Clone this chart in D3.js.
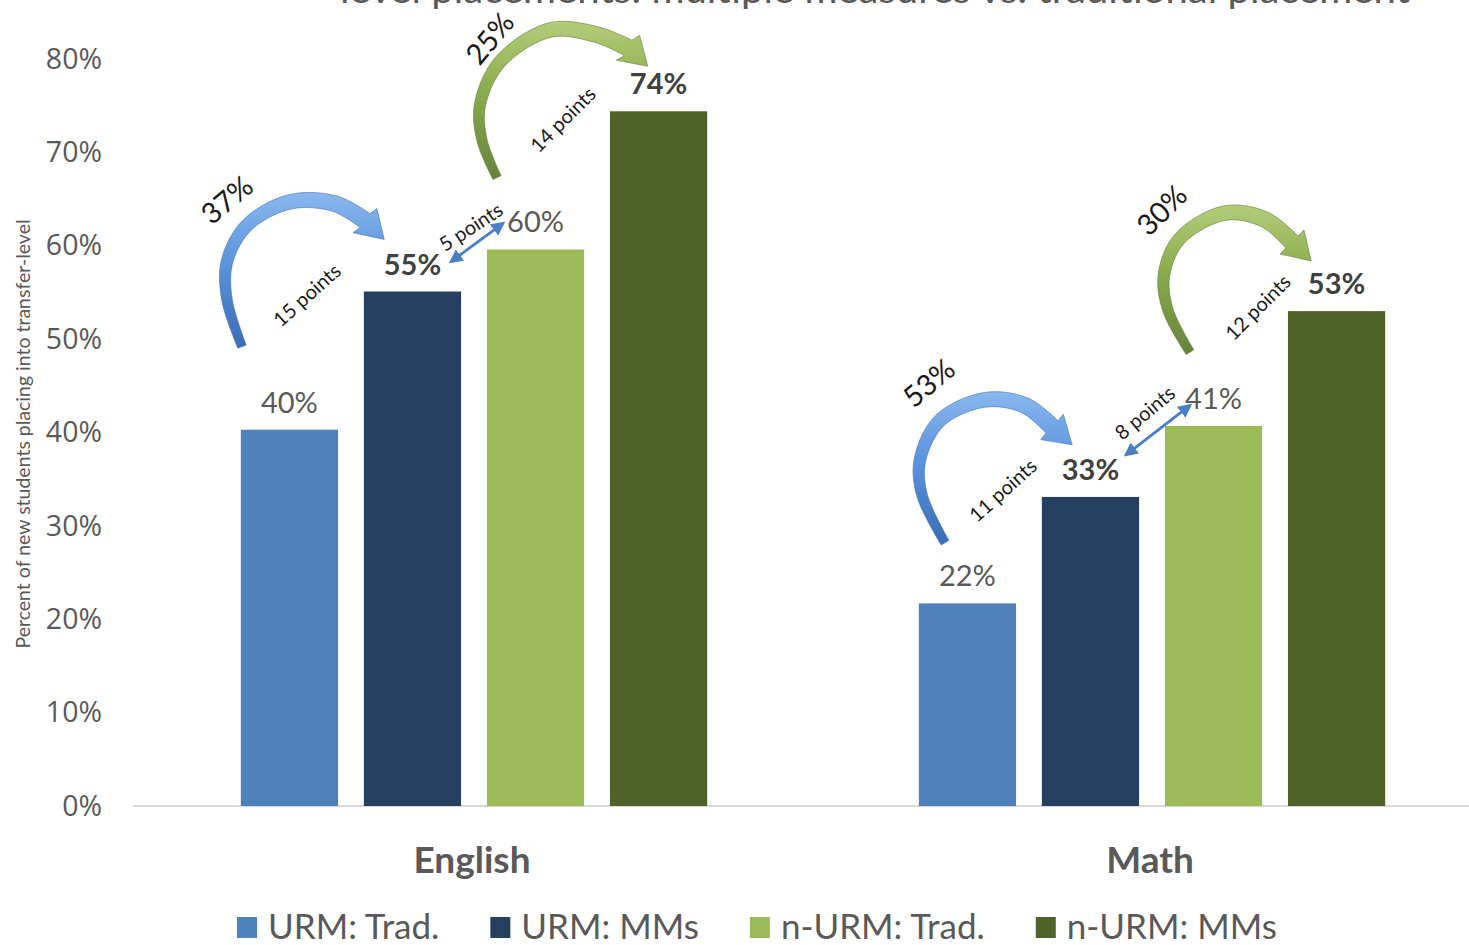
<!DOCTYPE html>
<html>
<head>
<meta charset="utf-8">
<script src="https://cdn.jsdelivr.net/npm/d3@7"></script>
<style>
  body { margin: 0; background: #fff; }
  svg { display: block; font-family: Lato, "Open Sans", sans-serif; }
</style>
</head>
<body>
<div id="chart"></div>
<script>

var categories = ["English", "Math"];
var seriesNames = ["URM: Trad.", "URM: MMs", "n-URM: Trad.", "n-URM: MMs"];
var englishValues = [0.403, 0.551, 0.596, 0.744];
var mathValues = [0.217, 0.331, 0.407, 0.530];
var yTicks = [0, 0.1, 0.2, 0.3, 0.4, 0.5, 0.6, 0.7, 0.8];

// change annotations: points are [offset from category start, value]
var curvedArrows = [
    {cat: "English", color: "blue",
     pts: [[107, .492], [92, .542], [92, .583], [112, .622], [155, .647], [200, .645], [230, .627]],
     tip: [248, .608]},
    {cat: "English", color: "green",
     pts: [[362, .673], [347, .713], [345, .751], [365, .797], [415, .831], [462, .826], [493, .812]],
     tip: [510, .795]},
    {cat: "Math", color: "blue",
     pts: [[132, .282], [109, .333], [107, .371], [127, .413], [172, .435], [212, .429], [239, .406]],
     tip: [259, .387]},
    {cat: "Math", color: "green",
     pts: [[377, .486], [355, .531], [351, .569], [367, .608], [412, .635], [452, .628], [479, .604]],
     tip: [497, .585]}
];
var gapArrows = [
    {cat: "English", from: [316, .583], to: [368, .624]},
    {cat: "Math", from: [313, .376], to: [377, .429]}
];
var notes = [
    {cat: "English", text: "37%", at: [92, .649], rot: -40, big: true},
    {cat: "English", text: "15 points", at: [172, .547], rot: -42, big: false},
    {cat: "English", text: "5 points", at: [336, .620], rot: -33, big: false},
    {cat: "English", text: "25%", at: [355, .822], rot: -50, big: true},
    {cat: "English", text: "14 points", at: [428, .735], rot: -45, big: false},
    {cat: "Math", text: "53%", at: [116, .453], rot: -40, big: true},
    {cat: "Math", text: "11 points", at: [190, .338], rot: -42, big: false},
    {cat: "Math", text: "8 points", at: [332, .421], rot: -40, big: false},
    {cat: "Math", text: "30%", at: [349, .638], rot: -45, big: true},
    {cat: "Math", text: "12 points", at: [445, .534], rot: -45, big: false}
];

var colors = ["#4F81BD", "#243F60", "#9BBB59", "#4F6228"];
var W = 1469, H = 945;

var svg = d3.select("#chart").append("svg")
    .attr("width", W)
    .attr("height", H);

var defs = svg.append("defs");
var gBlue = defs.append("linearGradient").attr("id", "gradBlue")
    .attr("x1", 0).attr("y1", 0).attr("x2", 0).attr("y2", 1);
gBlue.append("stop").attr("offset", "0%").attr("stop-color", "#8ab8ee");
gBlue.append("stop").attr("offset", "45%").attr("stop-color", "#5b93dc");
gBlue.append("stop").attr("offset", "100%").attr("stop-color", "#3a6db5");
var gGreen = defs.append("linearGradient").attr("id", "gradGreen")
    .attr("x1", 0).attr("y1", 0).attr("x2", 0).attr("y2", 1);
gGreen.append("stop").attr("offset", "0%").attr("stop-color", "#b4cd7a");
gGreen.append("stop").attr("offset", "45%").attr("stop-color", "#8aab4c");
gGreen.append("stop").attr("offset", "100%").attr("stop-color", "#66843a");

defs.append("marker").attr("id", "head")
    .attr("viewBox", "0 0 10 10").attr("refX", 8).attr("refY", 5)
    .attr("markerWidth", 5).attr("markerHeight", 5)
    .attr("orient", "auto-start-reverse")
    .append("path").attr("d", "M0,0L10,5L0,10z").attr("fill", "#4a7fc6");

// title is cut off at the top of the picture
svg.append("text")
    .attr("x", 875)
    .attr("y", 3)
    .attr("text-anchor", "middle")
    .attr("font-size", 36)
    .attr("textLength", 1070)
    .attr("lengthAdjust", "spacingAndGlyphs")
    .attr("fill", "#595959")
    .text("level placements: multiple measures vs. traditional placement");

var x0 = d3.scaleBand()
    .domain(categories)
    .range([135, 1491])
    .paddingInner(0);

var x1 = d3.scaleBand()
    .domain(seriesNames)
    .range([0, x0.bandwidth()])
    .paddingInner(0.21)
    .paddingOuter(0.86);

var y = d3.scaleLinear()
    .domain([0, 0.8])
    .range([806, 59]);

// y axis
var yAxis = svg.append("g")
    .attr("transform", "translate(102,0)")
    .call(d3.axisLeft(y).tickValues(yTicks).tickFormat(d3.format(".0%")).tickSize(0).tickPadding(0));
yAxis.select(".domain").remove();
yAxis.selectAll("text")
    .attr("font-family", "'Open Sans', sans-serif")
    .attr("font-size", 28.5)
    .attr("fill", "#595959");

svg.append("text")
    .attr("transform", "translate(30,434) rotate(-90)")
    .attr("text-anchor", "middle")
    .attr("font-size", 19.5)
    .attr("fill", "#595959")
    .text("Percent of new students placing into transfer-level");

// baseline
svg.append("line")
    .attr("x1", 133).attr("x2", W)
    .attr("y1", y(0)).attr("y2", y(0))
    .attr("stroke", "#d9d9d9")
    .attr("stroke-width", 2);

var rows = categories.map(function(c, i) {
    var vals = i === 0 ? englishValues : mathValues;
    return {cat: c, vals: seriesNames.map(function(s, j) { return {s: s, j: j, v: vals[j]}; })};
});

var groups = svg.selectAll("g.cat")
    .data(rows)
    .enter().append("g")
    .attr("class", "cat")
    .attr("transform", function(d) { return "translate(" + x0(d.cat) + ",0)"; });

groups.selectAll("rect")
    .data(function(d) { return d.vals; })
    .enter().append("rect")
    .attr("x", function(d) { return x1(d.s); })
    .attr("y", function(d) { return y(d.v); })
    .attr("width", x1.bandwidth())
    .attr("height", function(d) { return y(0) - y(d.v); })
    .attr("fill", function(d) { return colors[d.j]; });

groups.selectAll("text.val")
    .data(function(d) { return d.vals; })
    .enter().append("text")
    .attr("class", "val")
    .attr("x", function(d) { return x1(d.s) + x1.bandwidth() / 2; })
    .attr("y", function(d) { return y(d.v) - 17; })
    .attr("text-anchor", "middle")
    .attr("font-size", 29)
    .attr("font-weight", function(d) { return d.j % 2 ? "bold" : "normal"; })
    .attr("fill", function(d) { return d.j % 2 ? "#404040" : "#595959"; })
    .text(function(d) { return Math.round(d.v * 100) + "%"; });

// category labels
svg.selectAll("text.catlabel")
    .data(categories)
    .enter().append("text")
    .attr("class", "catlabel")
    .attr("x", function(d) { return x0(d) + x0.bandwidth() / 2 - 2; })
    .attr("y", 873)
    .attr("text-anchor", "middle")
    .attr("font-size", 37)
    .attr("font-weight", "bold")
    .attr("fill", "#595959")
    .text(function(d) { return d; });

// curved arrows
function px(cat, p) { return [x0(cat) + p[0], y(p[1])]; }

var tmp = svg.append("path").attr("fill", "none");
var line = d3.line().curve(d3.curveCatmullRom.alpha(0.5));

curvedArrows.forEach(function(a) {
    var pts = a.pts.map(function(p) { return px(a.cat, p); });
    var tip = px(a.cat, a.tip);
    tmp.attr("d", line(pts));
    var node = tmp.node(), L = node.getTotalLength(), n = 60;
    var samples = d3.range(n + 1).map(function(i) { return node.getPointAtLength(L * i / n); });
    var left = [], right = [];
    samples.forEach(function(p, i) {
        var a0 = samples[Math.max(0, i - 1)], a1 = samples[Math.min(n, i + 1)];
        var tx = a1.x - a0.x, ty = a1.y - a0.y, len = Math.sqrt(tx * tx + ty * ty);
        var nx = -ty / len, ny = tx / len;
        var w = 4.5 + 4 * (i / n);
        left.push([p.x + nx * w, p.y + ny * w]);
        right.push([p.x - nx * w, p.y - ny * w]);
    });
    var B = samples[n];
    var dx = tip[0] - B.x, dy = tip[1] - B.y, dl = Math.sqrt(dx * dx + dy * dy);
    var hx = -dy / dl * 17, hy = dx / dl * 17;
    var tipX = B.x + dx / dl * 27, tipY = B.y + dy / dl * 27;
    var poly = left.concat([[B.x + hx, B.y + hy], [tipX, tipY], [B.x - hx, B.y - hy]], right.reverse());
    svg.append("path")
        .attr("d", "M" + poly.join("L") + "Z")
        .attr("fill", a.color === "blue" ? "url(#gradBlue)" : "url(#gradGreen)")
        .attr("stroke", a.color === "blue" ? "#3f74bd" : "#62803a")
        .attr("stroke-width", 0.6);
});
tmp.remove();

gapArrows.forEach(function(a) {
    var p0 = px(a.cat, a.from), p1 = px(a.cat, a.to);
    svg.append("line")
        .attr("x1", p0[0]).attr("y1", p0[1])
        .attr("x2", p1[0]).attr("y2", p1[1])
        .attr("stroke", "#4a7fc6")
        .attr("stroke-width", 2.8)
        .attr("marker-start", "url(#head)")
        .attr("marker-end", "url(#head)");
});

notes.forEach(function(d) {
    var p = px(d.cat, d.at);
    svg.append("text")
        .attr("transform", "translate(" + p[0] + "," + p[1] + ") rotate(" + d.rot + ")")
        .attr("text-anchor", "middle")
        .attr("dy", "0.35em")
        .attr("font-size", d.big ? 29 : 20)
        .attr("fill", "#1a1a1a")
        .text(d.text);
});

// legend
var legend = svg.append("g").attr("transform", "translate(237,0)");
var lx = 0;
seriesNames.forEach(function(s, i) {
    legend.append("rect")
        .attr("x", lx).attr("y", 917)
        .attr("width", 20).attr("height", 21)
        .attr("fill", colors[i]);
    var t = legend.append("text")
        .attr("x", lx + 31).attr("y", 939)
        .attr("font-size", 35)
        .attr("fill", "#595959")
        .text(s);
    lx += 31 + t.node().getComputedTextLength() + 51;
});

</script>
</body>
</html>
